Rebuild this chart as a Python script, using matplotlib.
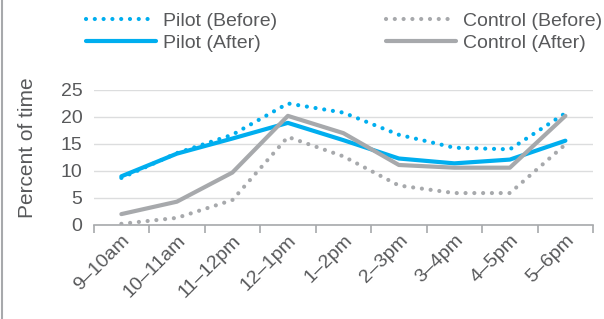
import numpy as np
import matplotlib
matplotlib.use("Agg")
import matplotlib.pyplot as plt
from matplotlib.lines import Line2D

plt.rcParams["font.family"] = ["Liberation Sans", "DejaVu Sans"]

hours = ["9–10am", "10–11am", "11–12pm", "12–1pm", "1–2pm",
         "2–3pm", "3–4pm", "4–5pm", "5–6pm"]
pilot_before = [8.7, 13.3, 16.7, 22.5, 20.8, 16.7, 14.3, 14.0, 20.7]
pilot_after = [9.0, 13.2, 16.0, 18.9, 15.7, 12.3, 11.4, 12.1, 15.6]
control_before = [0.2, 1.3, 4.6, 16.3, 12.7, 7.3, 5.9, 5.9, 14.9]
control_after = [2.0, 4.3, 9.7, 20.2, 17.0, 11.1, 10.6, 10.6, 20.2]

BLUE = "#00AEEF"
GRAY = "#A7A9AC"
TEXT = "#58595B"

fig = plt.figure(figsize=(6.04, 3.19), dpi=100)
ax = fig.add_axes([0.155, 0.295, 0.827, 0.423])

x = np.arange(len(hours))
dot = dict(linestyle=(0, (0.01, 2.1)), dash_capstyle="round", lw=3.0)
ax.plot(x, pilot_before, color=BLUE, label="Pilot (Before)", **dot)
ax.plot(x, pilot_after, color=BLUE, lw=3.0, label="Pilot (After)",
        solid_capstyle="round")
ax.plot(x, control_before, color=GRAY, label="Control (Before)", **dot)
ax.plot(x, control_after, color=GRAY, lw=3.0, label="Control (After)",
        solid_capstyle="round")

ax.set_xlim(-0.5, len(hours) - 0.5)
ax.set_ylim(0, 25)
ax.set_yticks([0, 5, 10, 15, 20, 25])
ax.grid(axis="y", color="#DCDDDE", lw=1)
ax.set_axisbelow(True)
for s in ["top", "right", "left"]:
    ax.spines[s].set_visible(False)
ax.spines["bottom"].set_color("#A7A9AC")
ax.spines["bottom"].set_linewidth(1.2)

ax.set_xticks(x)
ax.set_xticklabels(hours, rotation=45, ha="right", rotation_mode="anchor")
ax.set_xticks(np.arange(-0.5, len(hours)), minor=True)
ax.tick_params(axis="x", which="major", length=0, pad=5, labelsize=14,
               labelcolor=TEXT)
ax.tick_params(axis="x", which="minor", length=6, color="#A7A9AC", width=1.2)
ax.tick_params(axis="y", length=0, pad=8, labelsize=14, labelcolor=TEXT)
ax.set_ylabel("Percent of time", fontsize=15, color=TEXT)
ax.yaxis.set_label_coords(-0.114, 0.574)

handles, labels = ax.get_legend_handles_labels()
fig.legend(handles, labels, loc="upper left", bbox_to_anchor=(0.142, 0.962),
           ncol=2, frameon=False, fontsize=14, handlelength=3.6,
           handletextpad=0.36, columnspacing=5.6, labelspacing=0.25,
           borderpad=0, borderaxespad=0, labelcolor=TEXT)

fig.add_artist(Line2D([0.004, 0.004], [0, 1], color="#A7A9AC", lw=1.5,
                      transform=fig.transFigure))

fig.savefig("out.png", dpi=100)
